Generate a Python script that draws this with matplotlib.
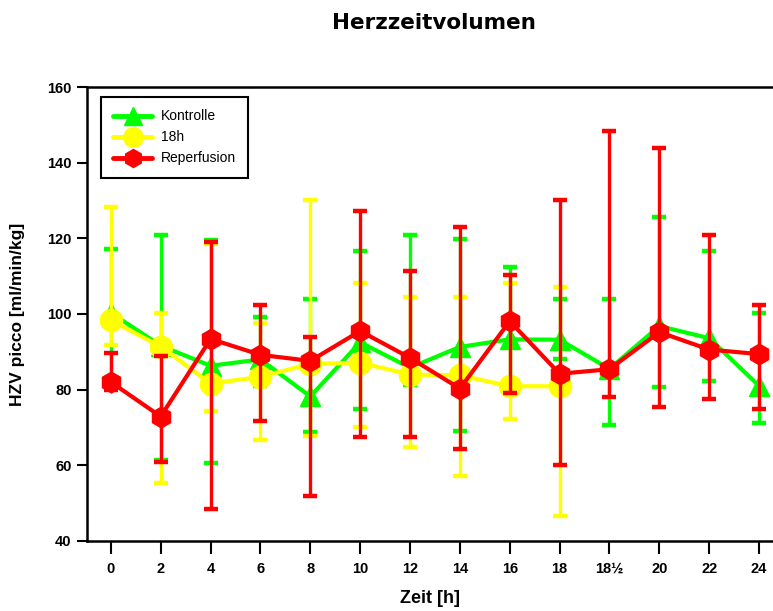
import matplotlib
matplotlib.use("Agg")
import matplotlib.pyplot as plt
from matplotlib.lines import Line2D
import numpy as np

# time points (categorical axis)
zeit = ["0", "2", "4", "6", "8", "10", "12", "14", "16", "18", "18½", "20", "22", "24"]

# Kontrolle: mean, upper and lower error bar ends
kontrolle = [100.3, 91.6, 86.3, 88.0, 78.2, 92.5, 85.8, 91.3, 93.3, 93.2, 85.5, 96.8, 93.6, 81.0]
kontrolle_hi = [117.3, 120.9, 119.6, 99.2, 104.0, 116.6, 120.9, 119.9, 112.5, 104.0, 104.0, 125.7, 116.7, 100.3]
kontrolle_lo = [83.0, 61.5, 60.6, 81.0, 68.7, 74.9, 81.1, 69.0, 79.5, 88.1, 70.7, 80.7, 82.2, 71.2]

# 18h (only up to 18 h)
h18 = [98.3, 91.4, 81.6, 83.4, 86.8, 87.1, 84.0, 83.8, 80.9, 80.9]
h18_hi = [128.3, 100.3, 118.4, 97.7, 130.1, 108.3, 104.5, 104.5, 108.3, 107.2]
h18_lo = [91.9, 55.3, 74.3, 66.8, 67.8, 70.1, 64.8, 57.3, 72.2, 46.7]

# Reperfusion
reperfusion = [82.0, 72.9, 93.4, 89.2, 87.6, 95.5, 88.4, 80.3, 98.1, 84.2, 85.4, 95.2, 90.6, 89.4]
reperfusion_hi = [89.7, 88.8, 119.0, 102.5, 93.9, 127.3, 111.3, 123.1, 110.3, 130.1, 148.4, 143.8, 120.9, 102.5]
reperfusion_lo = [80.0, 61.0, 48.4, 71.6, 52.0, 67.5, 67.5, 64.3, 79.1, 60.0, 78.0, 75.4, 77.5, 74.9]

arial = ["Liberation Sans", "DejaVu Sans"]

fig = plt.figure(figsize=(7.73, 6.11), dpi=100)
ax = fig.add_axes([0.1125, 0.1146, 0.8875, 0.743])


def plot_series(vals, hi, lo, color, marker, ms, z):
    x = np.arange(len(vals))
    v = np.array(vals)
    yerr = [v - np.array(lo), np.array(hi) - v]
    ax.errorbar(x, v, yerr=yerr, color=color, marker=marker, markersize=ms,
                linewidth=3, elinewidth=2.4, capsize=5, capthick=3.2,
                solid_capstyle="round", dash_capstyle="round", zorder=z)


plot_series(kontrolle, kontrolle_hi, kontrolle_lo, "#00ff00", "^", 14, 2)
plot_series(h18, h18_hi, h18_lo, "#ffff00", "o", 16, 3)
plot_series(reperfusion, reperfusion_hi, reperfusion_lo, "#ff0000", "h", 15, 4)

ax.set_xlim(-0.48, 13.28)
ax.set_ylim(40, 160)
ax.set_yticks(np.arange(40, 161, 20))
ax.set_xticks(np.arange(len(zeit)))
ax.set_xticklabels(zeit)

for lab in ax.get_xticklabels() + ax.get_yticklabels():
    lab.set_family(arial)
    lab.set_fontweight("bold")
    lab.set_fontsize(10.5)

ax.tick_params(axis="x", direction="out", length=9, width=1.5, pad=6)
ax.tick_params(axis="y", direction="out", length=7, width=1.5, pad=4)
ax.spines["right"].set_visible(False)
for s in ["left", "bottom", "top"]:
    ax.spines[s].set_linewidth(1.8)

fig.text(0.561, 0.963, "Herzzeitvolumen", ha="center", va="center",
         fontsize=15.5, fontweight="bold", family=["DejaVu Sans"])
ax.set_xlabel("Zeit [h]", fontsize=13, fontweight="bold", family=arial, labelpad=10)
ax.set_ylabel("HZV picco [ml/min/kg]", fontsize=12.5, fontweight="bold", family=arial, labelpad=16)

handles = [
    Line2D([], [], color="#00ff00", marker="^", markersize=13, linewidth=3.5, solid_capstyle="round"),
    Line2D([], [], color="#ffff00", marker="o", markersize=14, linewidth=3.5, solid_capstyle="round"),
    Line2D([], [], color="#ff0000", marker="h", markersize=13, linewidth=3.5, solid_capstyle="round"),
]
leg = ax.legend(handles, ["Kontrolle", "18h", "Reperfusion"], loc="upper left",
                bbox_to_anchor=(0.0204, 0.978), borderaxespad=0, fancybox=False,
                edgecolor="black", framealpha=1, prop={"family": arial, "size": 10},
                handlelength=2.8, labelspacing=0.5, borderpad=0.9, handletextpad=0.6)
leg.get_frame().set_linewidth(1.5)

fig.savefig("out.png", dpi=100)
